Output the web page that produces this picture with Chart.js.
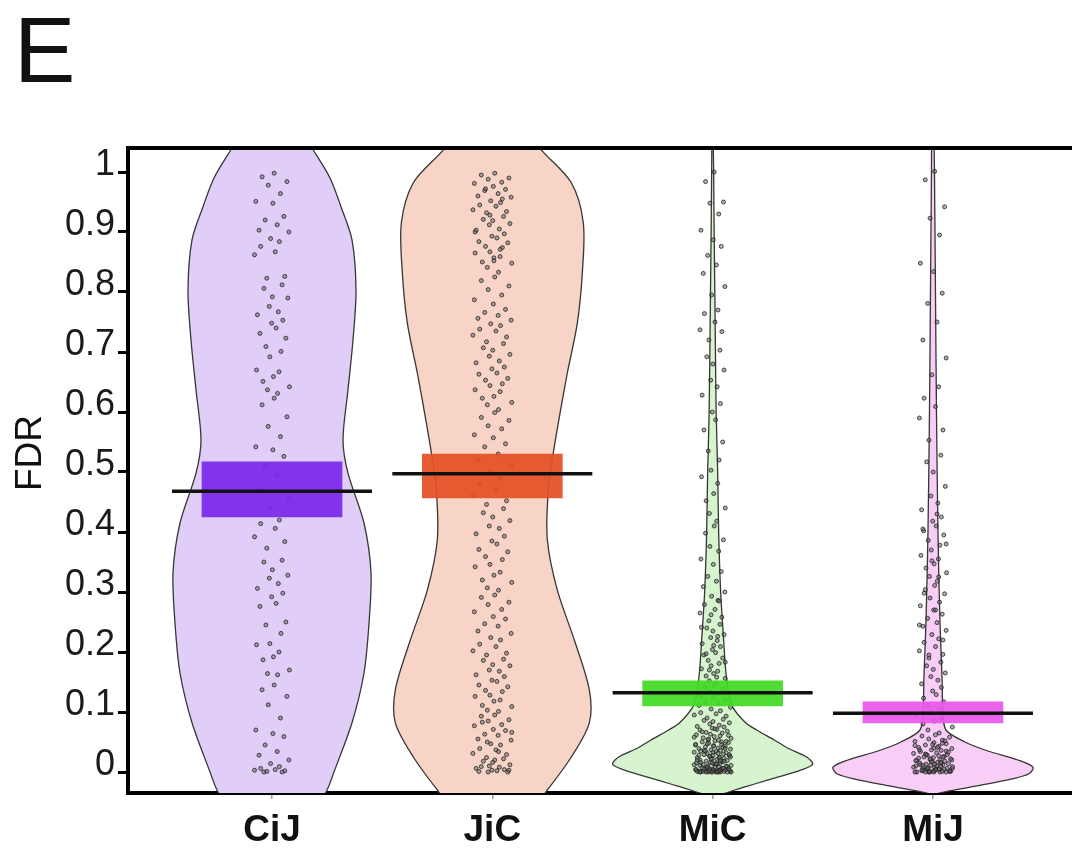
<!DOCTYPE html>
<html><head><meta charset="utf-8">
<script src="https://cdn.jsdelivr.net/npm/chart.js@4.4.1/dist/chart.umd.min.js"></script>
<style>html,body{margin:0;padding:0;background:#fff;}#wrap{position:relative;width:1072px;height:850px;}</style>
</head><body><div id="wrap"><canvas id="c" width="1072" height="850"></canvas></div>
<script>
// ---------- data ----------
const categories = ['CiJ', 'JiC', 'MiC', 'MiJ'];
const yTickValues = [0, 0.1, 0.2, 0.3, 0.4, 0.5, 0.6, 0.7, 0.8, 0.9, 1];
const yTickLabels = ['0', '0.1', '0.2', '0.3', '0.4', '0.5', '0.6', '0.7', '0.8', '0.9', '1'];

const meanFDR = [0.468, 0.497, 0.132, 0.098];
const ciLow   = [0.425, 0.457, 0.110, 0.082];
const ciHigh  = [0.517, 0.530, 0.152, 0.117];

// violin outlines: FDR levels (top to bottom) and relative density (1 = widest)
const violinLevelsCiJ  = [1.10, 1.04, 0.99, 0.942, 0.887, 0.803, 0.72, 0.637, 0.553, 0.498, 0.415, 0.332, 0.248, 0.165, 0.082, 0.0, -0.03, -0.07];
const violinDensityCiJ = [0.18, 0.40, 0.58, 0.69, 0.80, 0.84, 0.81, 0.76, 0.71, 0.76, 0.92, 0.99, 0.97, 0.92, 0.80, 0.62, 0.55, 0.40];
const violinLevelsJiC  = [1.10, 1.037, 0.982, 0.915, 0.832, 0.748, 0.665, 0.582, 0.532, 0.47, 0.387, 0.303, 0.22, 0.137, 0.082, 0.025, -0.03, -0.07];
const violinDensityJiC = [0.20, 0.49, 0.79, 0.91, 0.90, 0.85, 0.75, 0.66, 0.61, 0.56, 0.55, 0.65, 0.82, 0.97, 0.97, 0.79, 0.55, 0.35];
const violinLevelsMiC  = [1.06, 1.0, 0.9, 0.75, 0.6, 0.5, 0.4, 0.3, 0.22, 0.17, 0.13, 0.108, 0.082, 0.07, 0.053, 0.04, 0.025, 0.013, 0.003, -0.008, -0.02, -0.03, -0.04, -0.045];
const violinDensityMiC = [0.005, 0.01, 0.015, 0.025, 0.035, 0.05, 0.06, 0.08, 0.11, 0.13, 0.16, 0.20, 0.33, 0.44, 0.62, 0.75, 0.94, 1.0, 0.88, 0.66, 0.42, 0.22, 0.05, 0.0];
const violinLevelsMiJ  = [1.06, 1.0, 0.8, 0.6, 0.4, 0.25, 0.16, 0.1, 0.07, 0.05, 0.035, 0.02, 0.008, -0.003, -0.012, -0.022, -0.032, -0.038];
const violinDensityMiJ = [0.01, 0.015, 0.025, 0.035, 0.05, 0.07, 0.09, 0.10, 0.13, 0.32, 0.55, 0.85, 1.0, 0.96, 0.78, 0.48, 0.15, 0.0];

// individual FDR values (jittered strips)
const fdrCiJ = [0.998,0.992,0.984,0.978,0.964,0.951,0.948,0.926,0.92,0.912,0.903,0.9,0.889,0.884,0.876,0.867,0.862,0.826,0.823,0.812,0.806,0.792,0.79,0.776,0.767,0.762,0.753,0.748,0.74,0.731,0.723,0.709,0.701,0.692,0.67,0.667,0.659,0.651,0.642,0.637,0.631,0.623,0.612,0.592,0.576,0.559,0.542,0.537,0.526,0.51,0.495,0.47,0.455,0.44,0.42,0.414,0.406,0.392,0.384,0.373,0.353,0.35,0.337,0.328,0.323,0.314,0.306,0.298,0.292,0.281,0.276,0.25,0.245,0.231,0.214,0.212,0.2,0.192,0.187,0.17,0.164,0.162,0.145,0.137,0.126,0.112,0.09,0.07,0.064,0.059,0.045,0.034,0.028,0.02,0.014,0.009,0.006,0.004,0.003,0.002,0.001,0.0,0.0];
const fdrJiC = [0.998,0.995,0.99,0.988,0.983,0.981,0.976,0.971,0.969,0.964,0.96,0.958,0.952,0.949,0.945,0.943,0.937,0.934,0.932,0.926,0.921,0.919,0.914,0.912,0.905,0.903,0.897,0.893,0.89,0.884,0.882,0.876,0.874,0.867,0.865,0.859,0.857,0.85,0.848,0.841,
  0.833,0.825,0.819,0.81,0.804,0.795,0.787,0.78,0.771,
  0.766,0.761,0.756,0.753,0.747,0.744,0.738,0.735,0.728,0.725,0.717,0.714,0.707,0.703,0.696,0.693,0.685,0.682,0.675,0.672,0.665,0.663,0.656,0.653,0.647,0.644,0.637,0.634,0.626,0.623,0.616,0.612,0.604,0.599,0.591,0.586,0.577,0.572,0.562,0.557,0.547,0.542,
  0.53,0.519,0.511,0.5,0.489,0.481,0.47,0.461,
  0.452,0.446,0.439,0.432,0.425,0.419,0.41,0.406,0.397,0.393,0.385,0.38,0.371,0.367,0.359,0.354,0.346,0.342,0.333,0.328,0.32,0.316,0.307,0.303,0.295,0.291,0.283,0.279,0.271,0.267,0.259,0.255,0.247,0.243,0.235,0.231,0.224,0.22,0.213,0.209,0.202,
  0.198,0.195,0.188,0.186,0.179,0.177,0.17,0.168,0.162,0.159,0.153,0.151,0.145,0.142,0.136,0.134,0.128,0.126,0.12,0.118,0.111,0.109,0.103,0.101,0.095,0.093,0.087,0.085,0.079,0.077,0.071,0.069,0.063,0.061,0.055,0.053,0.047,0.045,0.039,0.037,0.031,0.029,0.024,0.022,0.018,0.016,0.012,0.01,0.008,0.006,0.004,0.003,0.002,0.001,0.0,
  0.972,0.955,0.928,0.9,0.871,0.852,0.083,0.066,0.05,0.034,0.02,0.009,0.003,0.0];
const fdrMiC = [1.0,0.984,0.95,0.948,0.93,0.903,0.887,0.876,0.861,0.845,0.831,0.809,0.795,0.77,0.764,0.75,0.737,0.734,0.72,0.703,0.692,0.68,0.67,0.653,0.642,0.628,0.614,0.6,0.587,0.57,0.55,0.535,0.52,0.503,0.492,0.481,0.464,
  0.452,0.44,0.431,0.418,0.41,0.398,0.387,0.376,0.368,0.355,0.346,0.334,0.326,0.318,0.309,0.3,0.293,0.286,0.279,0.271,0.265,0.258,0.252,0.246,0.24,0.235,0.229,0.224,0.219,0.214,0.209,0.204,0.199,0.195,0.19,0.186,0.181,0.177,0.172,0.168,0.164,0.16,0.156,0.152,
  0.148,0.144,0.141,0.137,0.134,0.13,0.127,0.124,0.12,0.117,0.114,0.111,0.108,0.105,0.102,
  0.099,0.097,0.095,0.093,0.09,0.088,0.086,0.084,0.082,0.08,0.078,0.076,0.075,0.073,0.071,0.07,0.068,0.066,0.065,0.063,0.062,0.06,0.059,0.057,0.056,0.054,0.053,0.052,0.05,0.049,0.048,0.046,0.045,0.044,0.043,0.042,0.04,0.039,0.038,0.037,0.036,0.035,0.034,0.033,0.032,0.031,0.03,0.029,0.028,0.027,0.026,0.025,0.024,0.023,0.022,0.021,0.02,0.019,0.018,0.017,0.016,0.015,0.014,0.013,0.012,0.011,0.01,0.009,0.008,0.007,0.006,0.005,0.004,0.004,0.003,0.003,0.002,0.002,0.001,0.001,0.0,0.0,0.0,0.0,
  0.058,0.051,0.047,0.041,0.036,0.033,0.029,0.026,0.023,0.02,0.018,0.015,0.013,0.011,0.009,0.007,0.006,0.005,0.004,0.003,0.002,0.001,0.0,0.0,0.0,
  0.072,0.067,0.061,0.055,0.05,0.046,0.043,0.039,0.035,0.031,0.028,0.025,0.022,0.019,0.016,0.014,0.012,0.01,0.008,0.006,0.005,0.004,0.003,0.002,0.002,0.001,0.001,0.0,0.0,0.0,0.0,0.0,
  0.285,0.262,0.241,0.226,0.211,0.197,0.183,0.17,0.158];
const fdrMiJ = [1.001,0.987,0.942,0.923,0.895,0.848,0.834,0.798,0.781,0.75,0.72,0.69,0.662,0.642,0.623,0.609,0.59,0.57,0.553,0.528,0.517,0.5,0.476,
  0.46,0.448,0.437,0.425,0.418,0.41,0.402,0.395,0.386,0.378,0.37,0.361,0.355,0.347,0.34,0.332,0.326,0.318,0.311,0.304,0.297,0.29,0.283,0.277,0.27,0.263,0.256,0.249,0.243,0.236,0.229,0.222,0.216,0.209,0.202,0.196,0.19,0.183,0.177,0.171,0.165,0.159,0.153,0.147,0.141,0.135,0.129,0.123,0.117,0.111,0.105,0.1,0.095,0.09,0.085,0.08,0.075,0.07,
  0.065,0.062,0.06,0.058,0.055,0.053,0.051,0.049,0.047,0.045,0.043,0.041,0.039,0.037,0.036,0.034,0.032,0.031,0.029,0.028,0.026,0.025,0.024,0.022,0.021,0.02,0.019,0.018,0.017,0.016,0.015,0.014,0.013,0.012,0.011,0.01,0.009,0.008,0.007,0.006,0.005,0.004,0.003,0.002,0.001,0.0,
  0.048,0.044,0.04,0.035,0.03,0.027,0.023,0.02,0.017,0.015,0.012,0.01,0.008,0.006,0.005,0.004,0.003,0.002,0.001,0.0,0.0,0.0,
  0.052,0.046,0.041,0.037,0.033,0.029,0.025,0.022,0.019,0.016,0.013,0.011,0.009,0.007,0.005,0.004,0.003,0.002,0.001,0.001,0.0,0.0,0.0,0.0,
  0.43,0.405,0.38,0.352,0.325,0.298,0.27,0.245,0.22,0.195];

// ---------- layout / style ----------
const X_MIN = 0.3464, X_MAX = 4.631;
const UNIT_PX = 220.33;              // pixels per category step
const VIOLIN_MAX_HW_PX = 100;        // half width of widest violin
const JITTER = [0.12,-0.55,0.83,-0.21,0.47,-0.9,0.05,0.66,-0.38,0.29,-0.72,0.94,-0.08,0.41,-0.63,0.18,-0.97,0.71,-0.29,0.56,-0.45,0.02,0.88,-0.15,0.35,-0.81,0.6,-0.02,0.23,-0.67,0.77,-0.34,0.5,-0.12,-0.86,0.39,0.08,-0.5,0.97,-0.25,0.31];
const violinFill = ['#e0cdf8', '#f7d4c6', '#d6f4cd', '#f8cdf6'];
const ciColors = ['rgba(122,40,232,0.93)', 'rgba(228,80,38,0.93)', 'rgba(66,218,36,0.93)', 'rgba(234,86,234,0.93)'];
const FONT = "'Liberation Sans', Arial, Helvetica, sans-serif";

function violinShape(center, levels, dens) {
  const hw = VIOLIN_MAX_HW_PX / UNIT_PX;
  const pts = [];
  for (let i = 0; i < levels.length; i++) pts.push({x: center + dens[i] * hw, y: levels[i]});
  for (let i = levels.length - 1; i >= 0; i--) pts.push({x: center - dens[i] * hw, y: levels[i]});
  pts.push({x: pts[0].x, y: pts[0].y});
  return pts;
}
function strip(center, values, wideBelow, wPx, narrowPx) {
  return values.map((v, i) => ({
    x: center + JITTER[i % JITTER.length] * ((v <= wideBelow ? wPx : narrowPx) / UNIT_PX),
    y: v
  }));
}

const violins = [
  [violinLevelsCiJ, violinDensityCiJ],
  [violinLevelsJiC, violinDensityJiC],
  [violinLevelsMiC, violinDensityMiC],
  [violinLevelsMiJ, violinDensityMiJ]
];
const datasets = [];
violins.forEach(([lv, dn], i) => {
  datasets.push({
    type: 'line', data: violinShape(i + 1, lv, dn), order: 10,
    borderColor: '#363636', borderWidth: 1.3, backgroundColor: violinFill[i],
    fill: 'shape', tension: 0.3, pointRadius: 0, pointHoverRadius: 0
  });
});
const pts = [].concat(
  strip(1, fdrCiJ, 2, 18, 18),
  strip(2, fdrJiC, 2, 20, 20),
  strip(3, fdrMiC, 0.12, 19, 13),
  strip(4, fdrMiJ, 0.1, 20, 14)
);
datasets.push({
  type: 'scatter', data: pts, order: 5,
  pointRadius: 2, pointBackgroundColor: 'rgba(100,100,100,0.5)',
  pointBorderColor: 'rgba(30,30,30,0.85)', pointBorderWidth: 0.9
});
datasets.push({
  type: 'bar', order: 2,
  data: categories.map((c, i) => ({x: i + 1, y: [ciLow[i], ciHigh[i]]})),
  backgroundColor: ciColors, borderWidth: 0, barThickness: 140, grouped: false
});
datasets.push({
  type: 'scatter', order: 1,
  data: categories.map((c, i) => ({x: i + 1, y: meanFDR[i]})),
  pointStyle: 'line', pointRadius: 100, pointBorderWidth: 3.5, pointBorderColor: '#111',
  pointBackgroundColor: '#111'
});

const extras = {
  id: 'extras',
  afterDraw(chart) {
    const ctx = chart.ctx, a = chart.chartArea;
    ctx.save();
    ctx.strokeStyle = '#000';
    ctx.lineWidth = 4;
    ctx.beginPath();
    ctx.moveTo(a.left - 2, a.top);
    ctx.lineTo(chart.width, a.top);
    ctx.stroke();
    ctx.fillStyle = '#111';
    ctx.font = '92px ' + FONT;
    ctx.textAlign = 'left';
    ctx.textBaseline = 'alphabetic';
    ctx.fillText('E', 14, 82);
    ctx.translate(31, 453);
    ctx.rotate(-Math.PI / 2);
    ctx.font = '37px ' + FONT;
    ctx.textAlign = 'center';
    ctx.textBaseline = 'middle';
    ctx.fillText('FDR', 0, 0);
    ctx.restore();
  }
};

function zeroPad(s) { s.paddingLeft = 0; s.paddingRight = 0; s.paddingTop = 0; s.paddingBottom = 0; }

new Chart(document.getElementById('c'), {
  type: 'scatter',
  data: {datasets},
  options: {
    responsive: false, animation: false, devicePixelRatio: 1,
    layout: {autoPadding: false, padding: {top: 148, right: 0, bottom: 0, left: 0}},
    plugins: {legend: {display: false}, tooltip: {enabled: false}},
    events: [],
    scales: {
      x: {
        type: 'linear', min: X_MIN, max: X_MAX, z: 1, offset: false,
        afterBuildTicks: s => { s.ticks = categories.map((c, i) => ({value: i + 1})); },
        afterFit: s => { s.height = 57; zeroPad(s); },
        grid: {display: true, offset: false, drawOnChartArea: false, drawTicks: true, tickLength: 6, color: '#9a9a9a', lineWidth: 1.5},
        border: {display: true, color: '#000', width: 4},
        ticks: {autoSkip: false, maxRotation: 0, minRotation: 0, padding: 10, color: '#111',
          font: {family: FONT, size: 37, weight: 'bold'},
          callback: (v, i) => categories[i]}
      },
      y: {
        type: 'linear', min: -0.035, max: 1.04, z: 1, offset: false,
        afterBuildTicks: s => { s.ticks = yTickValues.map(v => ({value: v})); },
        afterFit: s => { s.width = 128; zeroPad(s); },
        grid: {display: true, offset: false, drawOnChartArea: false, drawTicks: true, tickLength: 10, color: '#000', lineWidth: 3},
        border: {display: true, color: '#000', width: 4},
        ticks: {autoSkip: false, padding: 3, labelOffset: -7, color: '#1a1a1a',
          font: {family: FONT, size: 36},
          callback: (v, i) => yTickLabels[i]}
      }
    }
  },
  plugins: [extras]
});
</script>
</body></html>
